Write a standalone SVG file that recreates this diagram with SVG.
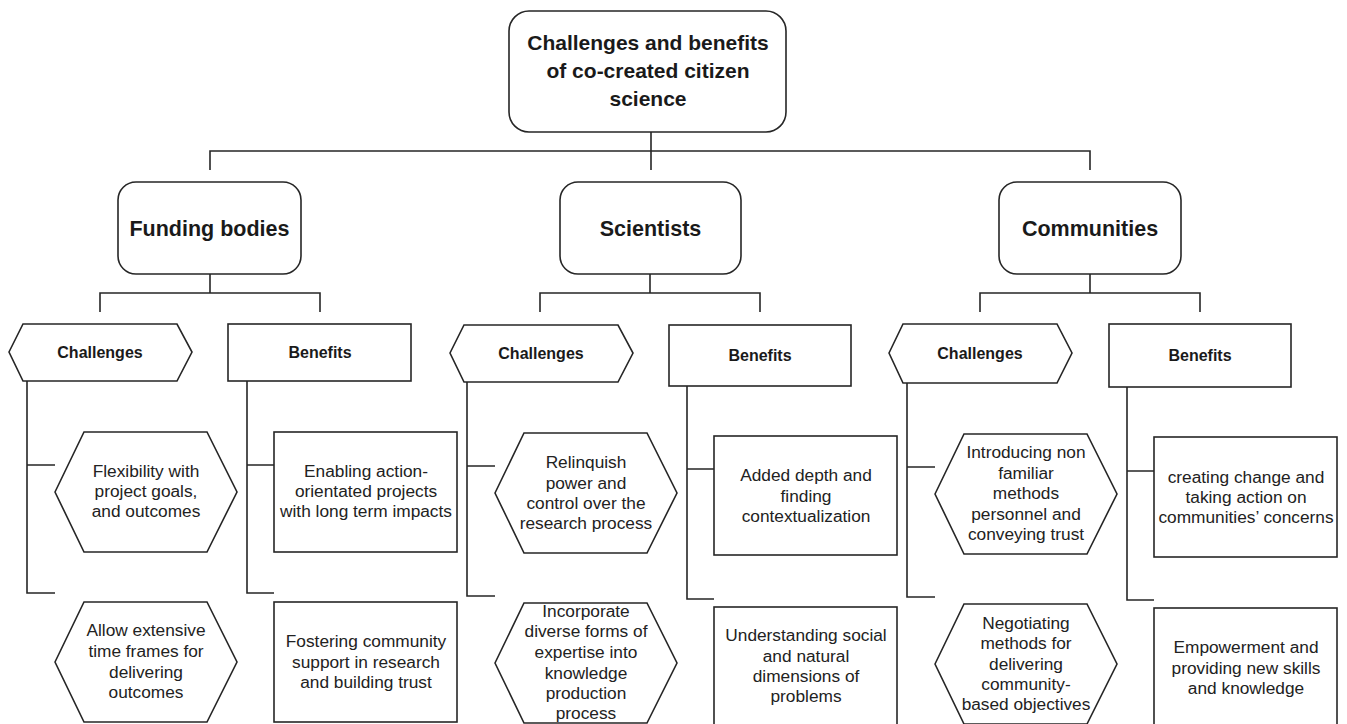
<svg xmlns="http://www.w3.org/2000/svg" width="1347" height="724" viewBox="0 0 1347 724">
<style>
.box{fill:#fff;stroke:#262626;stroke-width:1.6}
.ln{fill:none;stroke:#262626;stroke-width:1.6}
.t1{font-family:"Liberation Sans",Arial,sans-serif;font-weight:bold;font-size:21px;fill:#1a1a1a;text-anchor:middle}
.t2{font-family:"Liberation Sans",Arial,sans-serif;font-weight:bold;font-size:21.5px;fill:#1a1a1a;text-anchor:middle}
.t3{font-family:"Liberation Sans",Arial,sans-serif;font-weight:bold;font-size:16px;fill:#1a1a1a;text-anchor:middle}
.t4{font-family:"Liberation Sans",Arial,sans-serif;font-size:17.3px;fill:#222;text-anchor:middle}
</style>
<rect width="1347" height="724" fill="#fff"/>
<g id="connectors">
<path class="ln" d="M651,132V151M210,170V151H1090V170M651,151V170"/>
<path class="ln" d="M210,274V293M100,312V293H320V312"/>
<path class="ln" d="M650,274V293M540,312V293H760V312"/>
<path class="ln" d="M1090,274V293M980,312V293H1200V312"/>
<path class="ln" d="M27,381V593H55M27,465H55"/>
<path class="ln" d="M247,381V593H274M247,465H274"/>
<path class="ln" d="M467,382V596H495M467,466H495"/>
<path class="ln" d="M687,386V599H714M687,469H714"/>
<path class="ln" d="M907,383V597H935M907,467H935"/>
<path class="ln" d="M1127,387V600H1154M1127,471H1154"/>
</g>
<g id="root">
<rect class="box" x="509" y="11" width="277" height="121" rx="20"/>
<text class="t1" x="648" y="50">Challenges and benefits</text>
<text class="t1" x="648" y="78">of co-created citizen</text>
<text class="t1" x="648" y="106">science</text>
</g>
<g id="funding">
<rect class="box" x="118" y="182" width="183" height="92" rx="18"/>
<text class="t2" x="209.5" y="235.5">Funding bodies</text>
</g>
<g id="scientists">
<rect class="box" x="560" y="182" width="181" height="92" rx="18"/>
<text class="t2" x="650.5" y="235.5">Scientists</text>
</g>
<g id="communities">
<rect class="box" x="999" y="182" width="182" height="92" rx="18"/>
<text class="t2" x="1090" y="235.5">Communities</text>
</g>
<g id="funding-challenges">
<polygon class="box" points="9,352 23,324 177,324 192,352 177,381 23,381"/>
<text class="t3" x="100" y="358">Challenges</text>
</g>
<g id="funding-benefits">
<rect class="box" x="228" y="324" width="183" height="57"/>
<text class="t3" x="320" y="358">Benefits</text>
</g>
<g id="scientists-challenges">
<polygon class="box" points="450,353 464,325 618,325 633,353 618,382 464,382"/>
<text class="t3" x="541" y="359">Challenges</text>
</g>
<g id="scientists-benefits">
<rect class="box" x="669" y="325" width="182" height="61"/>
<text class="t3" x="760" y="361">Benefits</text>
</g>
<g id="communities-challenges">
<polygon class="box" points="889,353 903,324 1057,324 1072,353 1057,383 903,383"/>
<text class="t3" x="980" y="359">Challenges</text>
</g>
<g id="communities-benefits">
<rect class="box" x="1109" y="324" width="182" height="63"/>
<text class="t3" x="1200" y="361">Benefits</text>
</g>
<g id="fc1">
<polygon class="box" points="55,492 84,432 207,432 237,492 207,552 84,552"/>
<text class="t4" x="146" y="477">Flexibility with</text>
<text class="t4" x="146" y="497">project goals,</text>
<text class="t4" x="146" y="517">and outcomes</text>
</g>
<g id="fc2">
<polygon class="box" points="55,662 84,602 207,602 237,662 207,722 84,722"/>
<text class="t4" x="146" y="636">Allow extensive</text>
<text class="t4" x="146" y="657">time frames for</text>
<text class="t4" x="146" y="678">delivering</text>
<text class="t4" x="146" y="698">outcomes</text>
</g>
<g id="fb1">
<rect class="box" x="274" y="432" width="183" height="120"/>
<text class="t4" x="366" y="477">Enabling action-</text>
<text class="t4" x="366" y="497">orientated projects</text>
<text class="t4" x="366" y="517">with long term impacts</text>
</g>
<g id="fb2">
<rect class="box" x="274" y="602" width="183" height="120"/>
<text class="t4" x="366" y="647">Fostering community</text>
<text class="t4" x="366" y="668">support in research</text>
<text class="t4" x="366" y="688">and building trust</text>
</g>
<g id="sc1">
<polygon class="box" points="495,493 524,433 647,433 677,493 647,553 524,553"/>
<text class="t4" x="586" y="468">Relinquish</text>
<text class="t4" x="586" y="489">power and</text>
<text class="t4" x="586" y="509">control over the</text>
<text class="t4" x="586" y="529">research process</text>
</g>
<g id="sc2">
<polygon class="box" points="495,663 524,603 647,603 677,663 647,723 524,723"/>
<text class="t4" x="586" y="617">Incorporate</text>
<text class="t4" x="586" y="637">diverse forms of</text>
<text class="t4" x="586" y="658">expertise into</text>
<text class="t4" x="586" y="679">knowledge</text>
<text class="t4" x="586" y="699">production</text>
<text class="t4" x="586" y="719">process</text>
</g>
<g id="sb1">
<rect class="box" x="714" y="436" width="183" height="119"/>
<text class="t4" x="806" y="481">Added depth and</text>
<text class="t4" x="806" y="502">finding</text>
<text class="t4" x="806" y="522">contextualization</text>
</g>
<g id="sb2">
<rect class="box" x="714" y="607" width="183" height="125"/>
<text class="t4" x="806" y="641">Understanding social</text>
<text class="t4" x="806" y="662">and natural</text>
<text class="t4" x="806" y="682">dimensions of</text>
<text class="t4" x="806" y="702">problems</text>
</g>
<g id="cc1">
<polygon class="box" points="935,494 964,434 1087,434 1117,494 1087,554 964,554"/>
<text class="t4" x="1026" y="458">Introducing non</text>
<text class="t4" x="1026" y="479">familiar</text>
<text class="t4" x="1026" y="499">methods</text>
<text class="t4" x="1026" y="520">personnel and</text>
<text class="t4" x="1026" y="540">conveying trust</text>
</g>
<g id="cc2">
<polygon class="box" points="935,664 964,604 1087,604 1117,664 1087,724 964,724"/>
<text class="t4" x="1026" y="629">Negotiating</text>
<text class="t4" x="1026" y="649">methods for</text>
<text class="t4" x="1026" y="670">delivering</text>
<text class="t4" x="1026" y="690">community-</text>
<text class="t4" x="1026" y="710">based objectives</text>
</g>
<g id="cb1">
<rect class="box" x="1154" y="437" width="183" height="120"/>
<text class="t4" x="1246" y="483">creating change and</text>
<text class="t4" x="1246" y="503">taking action on</text>
<text class="t4" x="1246" y="523">communities’ concerns</text>
</g>
<g id="cb2">
<rect class="box" x="1154" y="608" width="183" height="124"/>
<text class="t4" x="1246" y="653">Empowerment and</text>
<text class="t4" x="1246" y="674">providing new skills</text>
<text class="t4" x="1246" y="694">and knowledge</text>
</g>
</svg>
